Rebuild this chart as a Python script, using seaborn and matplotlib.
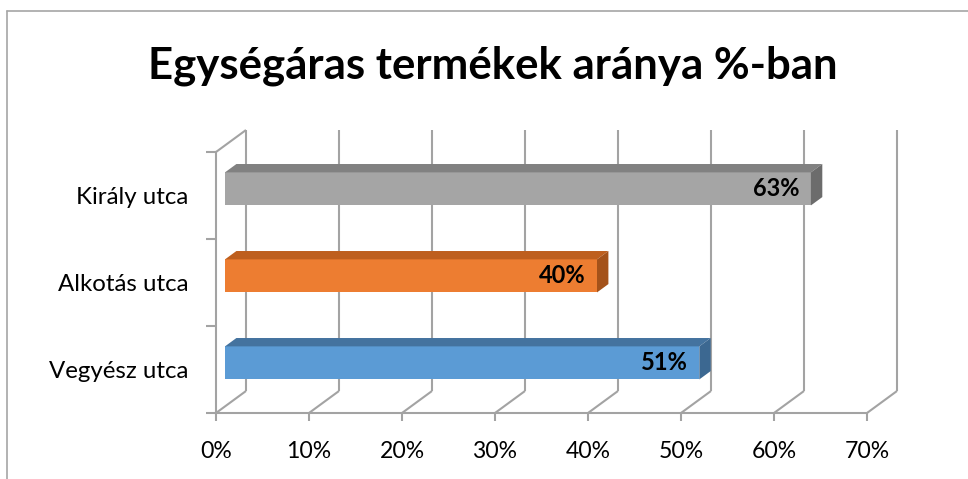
import matplotlib
matplotlib.use("Agg")
import matplotlib.pyplot as plt
import pandas as pd
import seaborn as sns

# Data
categories = ["Király utca", "Alkotás utca", "Vegyész utca"]
shares = [63, 40, 51]
value_labels = ["63%", "40%", "51%"]
x_ticks = [0, 10, 20, 30, 40, 50, 60, 70]
x_tick_labels = ["0%", "10%", "20%", "30%", "40%", "50%", "60%", "70%"]
title = "Egységáras termékek aránya %-ban"

# Colours: front, top and end faces of each bar
front_colors = ["#A5A5A5", "#ED7D31", "#5B9BD5"]
top_colors = ["#818181", "#BE5F1E", "#44739F"]
side_colors = ["#6C6C6C", "#A4521A", "#3C6891"]
grid_color = "#A3A3A3"

sns.set_theme(style="white")
plt.rcParams["font.family"] = ["Lato", "DejaVu Sans"]

W, H = 968, 479
fig = plt.figure(figsize=(W / 100, H / 100), dpi=100)
fig.patch.set_facecolor("white")

# front plane of the 3-D box, in pixels
L, R, T, B = 216, 867, 152, 413
ax = fig.add_axes([L / W, 1 - B / H, (R - L) / W, (B - T) / H])
ax.set_facecolor("none")

df = pd.DataFrame({"street": categories, "share": shares})
sns.barplot(data=df, x="share", y="street", hue="street", palette=front_colors,
            orient="h", width=0.38, saturation=1, legend=False, ax=ax, zorder=3,
            linewidth=0)

xmax = x_ticks[-1]
ax.set_xlim(0, xmax)
ax.set_ylim(len(categories) - 0.5, -0.5)

# depth vector of the box (pixels right / up) converted to data units
px_x = (R - L) / xmax
px_y = (B - T) / len(categories)
depth_px = (30, 22)


def offset(frac):
    return depth_px[0] * frac / px_x, -depth_px[1] * frac / px_y


Dx, Dy = offset(1.0)
ybot, ytop = len(categories) - 0.5, -0.5

# floor diagonals and back-wall gridlines
for k in x_ticks:
    ax.plot([k, k + Dx], [ybot, ybot + Dy], color=grid_color, lw=1.5,
            zorder=1, clip_on=False, solid_capstyle="butt")
    ax.plot([k + Dx, k + Dx], [ybot + Dy, ytop + Dy], color=grid_color, lw=1.5,
            zorder=1, clip_on=False, solid_capstyle="butt")
# top edge of the side wall
ax.plot([0, Dx], [ytop, ytop + Dy], color=grid_color, lw=1.5, zorder=1,
        clip_on=False, solid_capstyle="butt")

# turn the flat bars into 3-D blocks
f0, f1 = 0.3, 0.68
ox0, oy0 = offset(f0)
ox1, oy1 = offset(f1)
for i, p in enumerate(ax.patches[:len(categories)]):
    x0, y0 = p.get_x(), p.get_y()
    w, h = p.get_width(), p.get_height()
    p.set_x(x0 + ox0)
    p.set_y(y0 + oy0)
    p.set_clip_on(False)
    top = [(x0 + ox0, y0 + oy0), (x0 + w + ox0, y0 + oy0),
           (x0 + w + ox1, y0 + oy1), (x0 + ox1, y0 + oy1)]
    side = [(x0 + w + ox0, y0 + oy0), (x0 + w + ox0, y0 + h + oy0),
            (x0 + w + ox1, y0 + h + oy1), (x0 + w + ox1, y0 + oy1)]
    ax.fill(*zip(*top), color=top_colors[i], lw=0, zorder=3, clip_on=False)
    ax.fill(*zip(*side), color=side_colors[i], lw=0, zorder=3, clip_on=False)
    ax.text(x0 + w + ox0 - 11 / px_x, y0 + h / 2 + oy0, value_labels[i],
            ha="right", va="center", fontsize=17, fontweight="bold",
            color="black", zorder=5)

# axes styling
for s in ["top", "right"]:
    ax.spines[s].set_visible(False)
for s in ["left", "bottom"]:
    ax.spines[s].set_color(grid_color)
    ax.spines[s].set_linewidth(1.5)
    ax.spines[s].set_zorder(2)

ax.set_xticks(x_ticks)
ax.set_xticklabels(x_tick_labels)
ax.tick_params(axis="x", bottom=True, direction="out", length=6, width=1.5,
               color=grid_color, pad=14, labelsize=16.6, labelcolor="black")
ax.set_yticks(range(len(categories)))
ax.set_yticklabels(categories)
ax.set_yticks([i - 0.5 for i in range(len(categories) + 1)], minor=True)
ax.tick_params(axis="y", which="major", left=True, length=0, pad=20,
               labelsize=17.3, labelcolor="black")
ax.tick_params(axis="y", which="minor", left=True, direction="out", length=7,
               width=1.5, color=grid_color)
ax.set_xlabel("")
ax.set_ylabel("")

fig.text(493 / W, 1 - 78 / H, title, ha="center", va="baseline",
         fontsize=31.5, fontweight="bold", color="black")

# chart-area border
fig.add_artist(plt.Line2D([7 / W, 1], [1 - 11 / H, 1 - 11 / H],
                          transform=fig.transFigure, color="#A6A6A6", lw=1.2))
fig.add_artist(plt.Line2D([7 / W, 7 / W], [0, 1 - 11 / H],
                          transform=fig.transFigure, color="#A6A6A6", lw=1.2))

fig.savefig("out.png", dpi=100)
